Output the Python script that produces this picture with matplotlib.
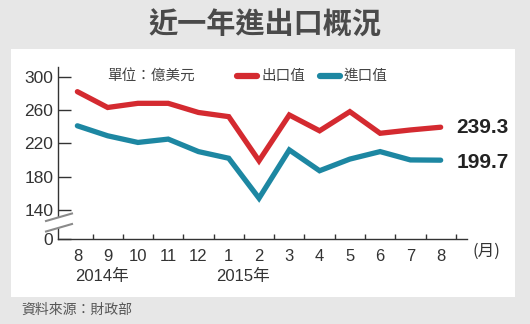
import matplotlib
matplotlib.use("Agg")
import matplotlib.pyplot as plt
from matplotlib.patches import Rectangle, Polygon
from matplotlib.lines import Line2D

# ---- data (億美元) ----
months = ["8", "9", "10", "11", "12", "1", "2", "3", "4", "5", "6", "7", "8"]
exports = [282, 263, 268, 268, 257, 252, 199, 254, 235, 258, 232, 236, 239.3]
imports = [241, 229, 221, 225, 210, 202, 154, 212, 187, 201, 210, 200, 199.7]
ytick_vals = [140, 180, 220, 260, 300]
year_labels = ["2014年", "2015年"]

RED = "#d42a30"
BLUE = "#1d87a2"
TXT = "#333333"
LAT = ["Liberation Sans", "Noto Sans CJK TC", "DejaVu Sans"]
CJK = ["Noto Sans CJK TC", "Liberation Sans", "DejaVu Sans"]

W, H = 530, 324
fig = plt.figure(figsize=(W / 100, H / 100), dpi=100)
fig.patch.set_facecolor("#e7e7e7")

# white panel
fig.patches.append(Rectangle((10.7 / W, 1 - 297.3 / H), (515 - 10.7) / W, (297.3 - 49.3) / H,
                             transform=fig.transFigure, facecolor="white", edgecolor="none", zorder=-10))

fig.text(265 / W, 1 - 25 / H, "近一年進出口概況", ha="center", va="center",
         fontsize=21, fontweight="bold", color="#4a4a4a", family=CJK)
fig.text(21.7 / W, 1 - 310 / H, "資料來源：財政部", ha="left", va="center",
         fontsize=10, color="#555555", family=CJK)

ax_l, ax_r, ax_t, ax_b = 58, 466.7, 66.7, 239
ax = fig.add_axes([ax_l / W, 1 - ax_b / H, (ax_r - ax_l) / W, (ax_b - ax_t) / H])
ax.set_facecolor("none")
ax.set_zorder(5)

x = list(range(len(months)))
ax.plot(x, exports, color=RED, lw=3.8, solid_capstyle="round", solid_joinstyle="miter", zorder=3)
ax.plot(x, imports, color=BLUE, lw=3.8, solid_capstyle="round", solid_joinstyle="miter", zorder=3)

ybot = 105
ax.set_xlim(-0.64, 12.86)
ax.set_ylim(ybot, 312)

for s in ["top", "right"]:
    ax.spines[s].set_visible(False)
for s in ["left", "bottom"]:
    ax.spines[s].set_color(TXT)
    ax.spines[s].set_linewidth(1.0)

ax.set_yticks([ybot] + ytick_vals)
ax.set_yticklabels(["0"] + [str(v) for v in ytick_vals], fontsize=12.5, color=TXT, family=LAT)
ax.tick_params(axis="y", direction="in", length=9.5, width=1.0, color=TXT, pad=3.5)

ax.set_xticks(x)
ax.set_xticklabels(months, fontsize=12, color=TXT, family=LAT)
ax.set_xticks([i + 0.5 for i in range(len(months))], minor=True)
ax.tick_params(axis="x", which="major", length=0, pad=7)
ax.tick_params(axis="x", which="minor", direction="in", length=3.8, width=1.0, color=TXT)

# year labels under months
ax.text(0.82, -0.219, year_labels[0], transform=ax.get_xaxis_transform(), ha="center", va="center",
        fontsize=12, color=TXT, family=LAT)
ax.text(5.47, -0.219, year_labels[1], transform=ax.get_xaxis_transform(), ha="center", va="center",
        fontsize=12, color=TXT, family=LAT)
ax.text(1.049, -0.074, "(月)", transform=ax.transAxes, ha="center", va="center",
        fontsize=12, color=TXT, family=CJK)

# axis break marks
tr = ax.transAxes
def yax(py):
    return (ax_b - py) / (ax_b - ax_t)
def xax(px):
    return (px - ax_l) / (ax_r - ax_l)
ax.add_patch(Polygon([(xax(46), yax(221)), (xax(72), yax(213.5)), (xax(72), yax(224)), (xax(46), yax(231.5))],
                     closed=True, transform=tr, facecolor="white", edgecolor="none", clip_on=False, zorder=4))
for y0, y1 in [(221, 213.5), (231.5, 224)]:
    ax.add_line(Line2D([xax(46), xax(72)], [yax(y0), yax(y1)], transform=tr, color="#8a8a8a",
                       lw=1.5, clip_on=False, zorder=5))

# unit + legend
ly = yax(76)
ax.text(xax(106.7), ly, "單位：億美元", transform=tr, ha="left", va="center",
        fontsize=10.5, color="#444444", family=CJK)
ax.add_line(Line2D([xax(237.5), xax(257)], [ly, ly], transform=tr, color=RED, lw=4.5,
                   solid_capstyle="round", clip_on=False))
ax.text(xax(261.7), ly, "出口值", transform=tr, ha="left", va="center",
        fontsize=10.5, color="#444444", family=CJK)
ax.add_line(Line2D([xax(320.5), xax(339.5)], [ly, ly], transform=tr, color=BLUE, lw=4.5,
                   solid_capstyle="round", clip_on=False))
ax.text(xax(343.3), ly, "進口值", transform=tr, ha="left", va="center",
        fontsize=10.5, color="#444444", family=CJK)

# end labels
ax.annotate(f"{exports[-1]:.1f}", xy=(x[-1], exports[-1]), xytext=(11.5, 0), textcoords="offset points",
            ha="left", va="center", fontsize=15, fontweight="bold", color="#222222", family=LAT,
            annotation_clip=False)
ax.annotate(f"{imports[-1]:.1f}", xy=(x[-1], imports[-1]), xytext=(11.5, -2), textcoords="offset points",
            ha="left", va="center", fontsize=15, fontweight="bold", color="#222222", family=LAT,
            annotation_clip=False)

fig.savefig("out.png", dpi=100, facecolor=fig.get_facecolor())
